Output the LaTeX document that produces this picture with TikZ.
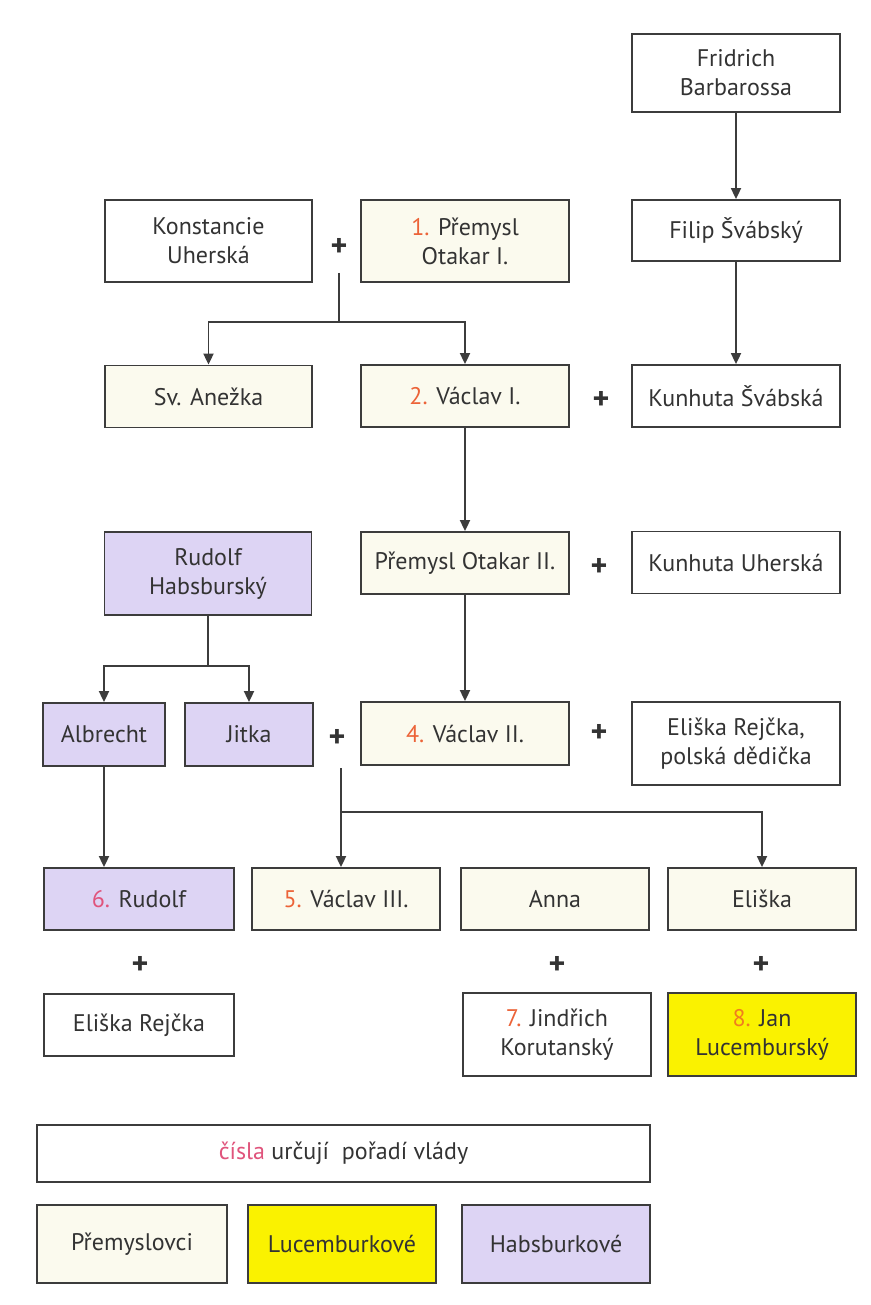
\documentclass[tikz,border=0pt]{standalone}
\usepackage{fontspec}
\setmainfont{PT Sans}
\usetikzlibrary{arrows.meta}
\definecolor{ink}{HTML}{333333}
\definecolor{frame}{HTML}{3C3C3C}
\definecolor{premfill}{HTML}{FBFAEE}
\definecolor{habsfill}{HTML}{DDD4F4}
\definecolor{lucfill}{HTML}{FAF200}
\definecolor{numA}{HTML}{EC6338}
\definecolor{numB}{HTML}{E0547C}
\definecolor{numC}{HTML}{F07E1E}
\tikzset{
  box/.style={draw=frame, line width=1.8pt, rectangle, inner sep=0pt, align=center,
    text=ink, font=\fontsize{24}{29}\selectfont},
  prem/.style={box, fill=premfill},
  habs/.style={box, fill=habsfill},
  luc/.style={box, fill=lucfill},
  plain/.style={box, fill=white},
  plus/.style={text=ink, inner sep=0pt, font=\fontsize{32}{32}\selectfont\bfseries},
  link/.style={draw=frame, line width=1.8pt},
  arr/.style={link, -{Triangle[width=10pt,length=11pt]}}
}
\begin{document}
\begin{tikzpicture}[x=1pt,y=-1pt]
\useasboundingbox[fill=white] (0,0) rectangle (870,1305);
% row 1
\node[plain, minimum width=208pt, minimum height=78pt] (fb) at (736,73) {Fridrich\\Barbarossa};
% row 2
\node[plain, minimum width=207pt, minimum height=82pt] (ku) at (208.5,241) {Konstancie\\Uherská};
\node[prem, minimum width=208pt, minimum height=82pt] (po1) at (465,241) {\textcolor{numA}{1.} Přemysl\\Otakar I.};
\node[plain, minimum width=208pt, minimum height=61pt] (fs) at (736,230.5) {Filip Švábský};
\node[plus] (p1) at (339,247) {+};
% row 3
\node[prem, minimum width=207pt, minimum height=62pt] (sa) at (208.5,396.5) {Sv. Anežka};
\node[prem, minimum width=208pt, minimum height=62pt] (v1) at (465,396) {\textcolor{numA}{2.} Václav I.};
\node[plain, minimum width=208pt, minimum height=62pt] (kss) at (736,396) {Kunhuta Švábská};
\node[plus] (p2) at (601,400) {+};
% row 4
\node[habs, minimum width=207pt, minimum height=83pt] (rh) at (208,573.5) {Rudolf\\Habsburský};
\node[prem, minimum width=208pt, minimum height=62pt] (po2) at (465,563) {Přemysl Otakar II.};
\node[plain, minimum width=208pt, minimum height=62pt] (kuh) at (736,562.5) {Kunhuta Uherská};
\node[plus] (p3) at (599,567) {+};
% row 5
\node[habs, minimum width=122pt, minimum height=63pt] (al) at (104,734.5) {Albrecht};
\node[habs, minimum width=128pt, minimum height=63pt] (ji) at (249,734.5) {Jitka};
\node[prem, minimum width=208pt, minimum height=63pt] (v2) at (465,733.5) {\textcolor{numA}{4.} Václav II.};
\node[plain, minimum width=208pt, minimum height=83pt] (er) at (736,743.5) {Eliška Rejčka,\\polská dědička};
\node[plus] (p4) at (337,738) {+};
\node[plus] (p5) at (599,733) {+};
% row 6
\node[habs, minimum width=190pt, minimum height=62pt] (r6) at (139,899) {\textcolor{numB}{6.} Rudolf};
\node[prem, minimum width=188pt, minimum height=62pt] (v3) at (346,899) {\textcolor{numA}{5.} Václav III.};
\node[prem, minimum width=188pt, minimum height=62pt] (an) at (555,899) {Anna};
\node[prem, minimum width=188pt, minimum height=62pt] (el) at (762,899) {Eliška};
\node[plus] (p6) at (140,965) {+};
\node[plus] (p7) at (557,965) {+};
\node[plus] (p8) at (761,965) {+};
% row 7
\node[plain, minimum width=190pt, minimum height=62pt] (er2) at (139,1025) {Eliška Rejčka};
\node[plain, minimum width=188pt, minimum height=83pt] (jk) at (557,1034.5) {\textcolor{numA}{7.} Jindřich\\Korutanský};
\node[luc, minimum width=188pt, minimum height=83pt] (jl) at (762,1034.5) {\textcolor{numC}{8.} Jan\\Lucemburský};
% legend
\node[plain, minimum width=613pt, minimum height=57pt] (lg) at (343.5,1153.5) {\textcolor{numB}{čísla} určují\ \ pořadí vlády};
\node[prem, minimum width=190pt, minimum height=78pt] (lp) at (132,1244) {Přemyslovci};
\node[luc, minimum width=188pt, minimum height=78pt] (ll) at (342,1244) {Lucemburkové};
\node[habs, minimum width=188pt, minimum height=78pt] (lh) at (556,1244) {Habsburkové};
% connectors
\coordinate (c1) at (339,273);
\coordinate (c1b) at (339,322);
\draw[link] (c1) -- (c1b);
\draw[arr] (c1b) -| (sa.north);
\draw[arr] (c1b) -| (v1.north);
\draw[arr] (fb) -- (fs);
\draw[arr] (fs) -- (kss);
\draw[arr] (v1) -- (po2);
\draw[arr] (po2) -- (v2);
\coordinate (c2) at (208,666);
\draw[link] (rh.south) -- (c2);
\draw[arr] (c2) -| (al.north);
\draw[arr] (c2) -| (ji.north);
\draw[arr] (al.south) -- (al.south |- r6.north);
\coordinate (c3) at (341,768);
\coordinate (c3b) at (341,812);
\draw[arr] (c3) -- (c3 |- v3.north);
\draw[arr] (c3b) -| (el.north);
\end{tikzpicture}
\end{document}
